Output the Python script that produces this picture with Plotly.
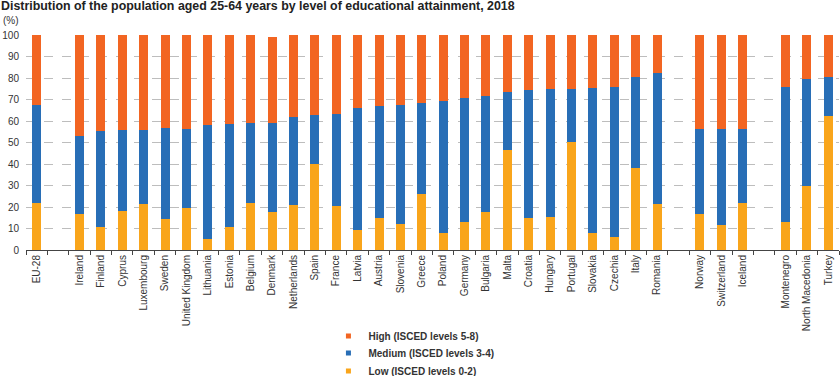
import plotly.graph_objects as go

categories = ["EU-28", "", "Ireland", "Finland", "Cyprus", "Luxembourg", "Sweden",
              "United Kingdom", "Lithuania", "Estonia", "Belgium", "Denmark", "Netherlands",
              "Spain", "France", "Latvia", "Austria", "Slovenia", "Greece", "Poland",
              "Germany", "Bulgaria", "Malta", "Croatia", "Hungary", "Portugal", "Slovakia",
              "Czechia", "Italy", "Romania", "", "Norway", "Switzerland", "Iceland", "",
              "Montenegro", "North Macedonia", "Turkey"]

low = [21.9, None, 16.7, 10.7, 18.0, 21.6, 14.4, 19.5, 5.3, 10.7, 22.0, 17.5, 20.9,
       40.0, 20.6, 9.3, 14.7, 11.9, 26.2, 7.8, 13.2, 17.5, 46.7, 14.7, 15.2, 50.1, 8.1,
       6.0, 38.3, 21.6, None, 16.7, 11.6, 21.9, None, 13.2, 29.8, 62.3]
medium = [45.5, None, 36.3, 44.6, 37.7, 34.1, 42.5, 36.9, 52.7, 48.1, 37.1, 41.6, 40.8,
          22.8, 42.7, 56.7, 52.4, 55.5, 42.2, 61.3, 57.5, 54.3, 26.9, 59.9, 59.7, 24.8, 67.2,
          69.8, 42.2, 60.6, None, 39.4, 44.5, 34.2, None, 62.6, 49.7, 18.2]
high = [32.6, None, 47.0, 44.7, 44.3, 44.3, 43.1, 43.6, 42.0, 41.2, 40.9, 39.8, 38.3,
        37.2, 36.7, 34.0, 32.9, 32.6, 31.6, 30.9, 29.3, 28.2, 26.4, 25.4, 25.1, 25.1, 24.7,
        24.2, 19.5, 17.8, None, 43.9, 43.9, 43.9, None, 24.2, 20.5, 19.5]

# (name, values, colour, legend id, legend row position in paper units)
series = [
    ("Low (ISCED levels 0-2)", low, "#F9A51B", "legend3", -0.563),
    ("Medium (ISCED levels 3-4)", medium, "#286EB6", "legend2", -0.479),
    ("High (ISCED levels 5-8)", high, "#F26522", "legend", -0.40),
]

title = "Distribution of the population aged 25-64 years by level of educational attainment, 2018"

positions = list(range(len(categories)))
boundaries = [p - 0.5 for p in positions] + [len(categories) - 0.5]

fig = go.Figure()
legend_layouts = {}
for name, vals, color, leg, ypos in series:
    fig.add_trace(go.Bar(x=positions, y=vals, name=name, marker_color=color,
                         marker_line_width=0, showlegend=False, width=0.42))
    fig.add_trace(go.Scatter(x=[None], y=[None], mode="markers", name="<b>" + name + "</b>",
                             legend=leg, marker=dict(symbol="square", size=5, color=color)))
    legend_layouts[leg] = dict(x=0.372, xanchor="left", y=ypos, yanchor="middle",
                               font=dict(size=10, color="#333333"), itemwidth=30,
                               bgcolor="rgba(0,0,0,0)")

fig.update_layout(
    barmode="stack",
    width=840, height=376,
    margin=dict(l=26, r=1, t=35, b=126, autoexpand=False),
    paper_bgcolor="white", plot_bgcolor="white",
    font=dict(family="Liberation Sans, Arial, sans-serif", size=10, color="#333333"),
    annotations=[
        dict(text="<b>" + title + "</b>", x=0, xref="paper", xanchor="left", y=1,
             yref="paper", yanchor="middle", showarrow=False, xshift=-27, yshift=29,
             font=dict(size=12.4, color="#222222")),
        dict(text="(%)", x=0, xref="paper", xanchor="left", y=1.0, yref="paper",
             yanchor="middle", showarrow=False, xshift=-25, yshift=15,
             font=dict(size=10, color="#333333")),
    ],
    **legend_layouts,
)
fig.update_xaxes(tickmode="array", tickvals=positions, ticktext=categories, tickangle=-90,
                 ticks="", showline=True, linecolor="#444444", linewidth=1, showgrid=False,
                 zeroline=False, automargin=False, tickfont=dict(size=10, color="#333333"),
                 range=[-0.5, len(categories) - 0.5],
                 minor=dict(tickmode="array", tickvals=boundaries, ticks="outside",
                            ticklen=4, tickcolor="#444444", showgrid=False))
fig.update_yaxes(range=[0, 100], dtick=10, showgrid=True, gridcolor="#bdbdbd",
                 griddash="dash", gridwidth=1, zeroline=False, showline=False,
                 automargin=False, ticks="", ticklabelstandoff=6,
                 tickfont=dict(size=10, color="#333333"))

fig.write_html("out.html", config={"displayModeBar": False},
               post_script="document.body.style.margin='0px';")
